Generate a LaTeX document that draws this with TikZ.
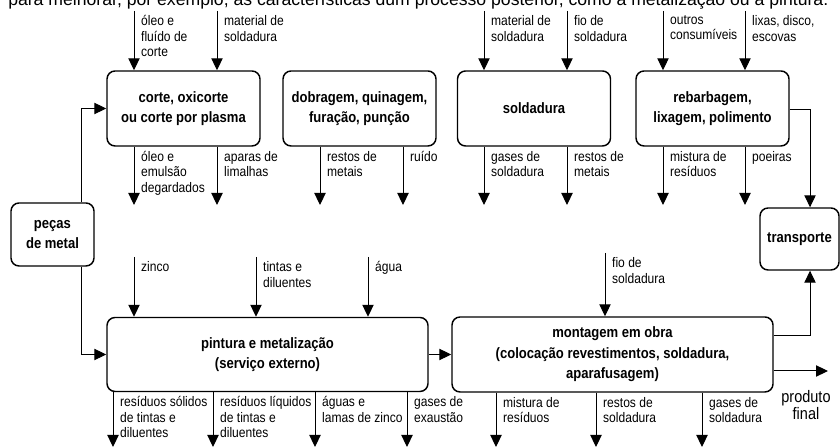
\documentclass[tikz,border=0pt]{standalone}
\usepackage{fontspec}
\usepackage{graphicx}
\usepackage{tikz}
\usetikzlibrary{arrows.meta}
\newfontfamily\condfont[FakeStretch=0.87]{Liberation Sans}
\newfontfamily\notefont{Liberation Sans}
\tikzset{
    every node/.style={font=\condfont\fontsize{10.4}{11.6}\selectfont},
    box/.style={draw, rounded corners=6pt, line width=1.1pt, align=center, inner sep=2pt,
        font=\condfont\bfseries\fontsize{11.25}{15.4}\selectfont},
    flow/.style={-{Triangle[length=9pt,width=8.5pt]}, line width=0.75pt},
    lbl/.style={anchor=north west, align=left, inner sep=0pt, xshift=5pt, yshift=-3pt},
    fimtext/.style={anchor=north, align=center, inner sep=0pt,
        font=\condfont\fontsize{12.5}{12.5}\selectfont}
}

\begin{document}
\begin{tikzpicture}[x=0.75pt, y=-0.75pt]
        \useasboundingbox (0,0) rectangle (840,448);
        \clip (0,0) rectangle (840,448);

        \node[anchor=base west, inner sep=0pt] (kopf) at (8,5.5) {\resizebox{615pt}{!}{\notefont para melhorar, por exemplo, as características dum processo posterior, como a metalização ou a pintura.}};

        % processos
        \node[box, minimum width=114.75pt, minimum height=56.25pt] (corte) at (183.5,108.5) {corte, oxicorte\\ou corte por plasma};
        \node[box, minimum width=114.75pt, minimum height=56.25pt] (dobra) at (359.5,108.5) {dobragem, quinagem,\\furação, punção};
        \node[box, minimum width=114.75pt, minimum height=56.25pt] (solda) at (534,108.5) {soldadura};
        \node[box, minimum width=114.75pt, minimum height=56.25pt] (rebarb) at (712.5,108.5) {rebarbagem,\\lixagem, polimento};
        \node[box, minimum width=62.25pt, minimum height=47.25pt] (pecas) at (52.5,234.5) {peças\\de metal};
        \node[box, minimum width=59.25pt, minimum height=46.5pt] (transp) at (799.5,239) {transporte};
        \node[box, minimum width=240.75pt, minimum height=55.5pt] (pintura) at (267.5,354.5) {pintura e metalização\\(serviço externo)};
        \node[box, minimum width=240.75pt, minimum height=56.25pt] (montagem) at (612.5,354.5) {montagem em obra\\(colocação revestimentos, soldadura,\\aparafusagem)};

        % entradas
        \coordinate (e1) at (134,11);
        \coordinate (e2) at (217,11);
        \coordinate (e3) at (484,11);
        \coordinate (e4) at (567,11);
        \coordinate (e5) at (663,11);
        \coordinate (e6) at (745,11);
        \coordinate (e7) at (134,257);
        \coordinate (e8) at (256,257);
        \coordinate (e9) at (368,257);
        \coordinate (e10) at (605,253);

        \draw[flow] (e1) node[lbl] (te1) {óleo e\\fluído de\\corte} -- (e1 |- corte.north);
        \draw[flow] (e2) node[lbl] (te2) {material de\\soldadura} -- (e2 |- corte.north);
        \draw[flow] (e3) node[lbl] (te3) {material de\\soldadura} -- (e3 |- solda.north);
        \draw[flow] (e4) node[lbl] (te4) {fio de\\soldadura} -- (e4 |- solda.north);
        \draw[flow] (e5) node[lbl] (te5) {outros\\consumíveis} -- (e5 |- rebarb.north);
        \draw[flow] (e6) node[lbl] (te6) {lixas, disco,\\escovas} -- (e6 |- rebarb.north);
        \draw[flow] (e7) node[lbl] (te7) {zinco} -- (e7 |- pintura.north);
        \draw[flow] (e8) node[lbl] (te8) {tintas e\\diluentes} -- (e8 |- pintura.north);
        \draw[flow] (e9) node[lbl] (te9) {água} -- (e9 |- pintura.north);
        \draw[flow] (e10) node[lbl] (te10) {fio de\\soldadura} -- (e10 |- montagem.north);

        % saidas
        \coordinate (s1) at (134,205);
        \coordinate (s2) at (217,205);
        \coordinate (s3) at (320,205);
        \coordinate (s4) at (403,205);
        \coordinate (s5) at (484,205);
        \coordinate (s6) at (567,205);
        \coordinate (s7) at (663,205);
        \coordinate (s8) at (745,205);
        \coordinate (s9) at (113,447);
        \coordinate (s10) at (213,447);
        \coordinate (s11) at (315,447);
        \coordinate (s12) at (407,447);
        \coordinate (s13) at (496,447);
        \coordinate (s14) at (596,447);
        \coordinate (s15) at (702,447);

        \draw[flow] (s1 |- corte.south) node[lbl] (ts1) {óleo e\\emulsão\\degardados} -- (s1);
        \draw[flow] (s2 |- corte.south) node[lbl] (ts2) {aparas de\\limalhas} -- (s2);
        \draw[flow] (s3 |- dobra.south) node[lbl] (ts3) {restos de\\metais} -- (s3);
        \draw[flow] (s4 |- dobra.south) node[lbl] (ts4) {ruído} -- (s4);
        \draw[flow] (s5 |- solda.south) node[lbl] (ts5) {gases de\\soldadura} -- (s5);
        \draw[flow] (s6 |- solda.south) node[lbl] (ts6) {restos de\\metais} -- (s6);
        \draw[flow] (s7 |- rebarb.south) node[lbl] (ts7) {mistura de\\resíduos} -- (s7);
        \draw[flow] (s8 |- rebarb.south) node[lbl] (ts8) {poeiras} -- (s8);
        \draw[flow] (s9 |- pintura.south) node[lbl] (ts9) {resíduos sólidos\\de tintas e\\diluentes} -- (s9);
        \draw[flow] (s10 |- pintura.south) node[lbl] (ts10) {resíduos líquidos\\de tintas e\\diluentes} -- (s10);
        \draw[flow] (s11 |- pintura.south) node[lbl] (ts11) {águas e\\lamas de zinco} -- (s11);
        \draw[flow] (s12 |- pintura.south) node[lbl] (ts12) {gases de\\exaustão} -- (s12);
        \draw[flow] (s13 |- montagem.south) node[lbl] (ts13) {mistura de\\resíduos} -- (s13);
        \draw[flow] (s14 |- montagem.south) node[lbl] (ts14) {restos de\\soldadura} -- (s14);
        \draw[flow] (s15 |- montagem.south) node[lbl] (ts15) {gases de\\soldadura} -- (s15);

        % ligacoes entre processos
        \draw[flow] ([xshift=22.1pt]pecas.north) |- (corte);
        \draw[flow] ([xshift=22.1pt]pecas.south) |- (pintura);
        \draw[flow] (pintura) -- (montagem);
        \draw[flow] ([yshift=-1pt]rebarb.east) -| ([xshift=7.9pt]transp.north);
        \draw[flow] ([yshift=14.6pt]montagem.east) -| ([xshift=7.9pt]transp.south);

        \coordinate (fim) at (828,371);
        \draw[flow] (montagem.east |- fim) -- (fim);
        \node[fimtext] (tfim) at (806,390) {produto\\final};
    \end{tikzpicture}
\end{document}
